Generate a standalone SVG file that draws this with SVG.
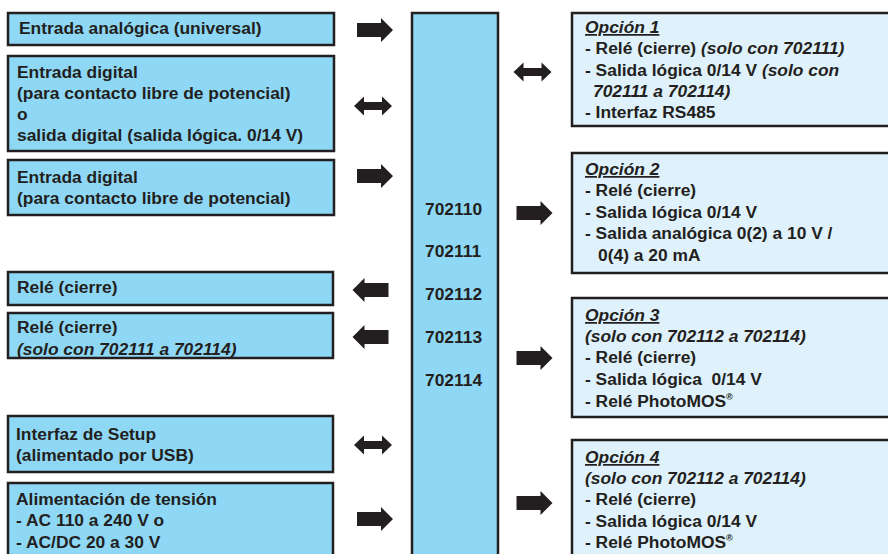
<svg xmlns="http://www.w3.org/2000/svg" width="888" height="554" viewBox="0 0 888 554">
<style>
.bl{fill:#8ed8f6;stroke:#231f20;stroke-width:2.5}
.br{fill:#dff1fb;stroke:#231f20;stroke-width:2.5}
text{font-family:"Liberation Sans",Arial,sans-serif;font-weight:bold;font-size:17.4px;fill:#231f20}
.i{font-style:italic}
.u{text-decoration:underline}
.ar{fill:#231f20}
</style>
<defs>
<path id="ra" d="M-18,-7 H6 V-12 L18,0 L6,12 V7 H-18 Z"/>
<path id="la" d="M18,-7 H-6 V-12 L-18,0 L-6,12 V7 H18 Z"/>
<path id="da" d="M-19,0 L-9,-9.5 V-4 H9 V-9.5 L19,0 L9,9.5 V4 H-9 V9.5 Z"/>
</defs>
<rect width="888" height="554" fill="#fff"/>
<g id="center">
<rect class="bl" x="412" y="13" width="86" height="560"/>
<text x="425" y="215">702110</text>
<text x="425" y="257">702111</text>
<text x="425" y="300">702112</text>
<text x="425" y="343">702113</text>
<text x="425" y="386">702114</text>
</g>
<g id="in1">
<rect class="bl" x="8" y="13" width="326" height="32"/>
<text x="19" y="34">Entrada analógica (universal)</text>
</g>
<g id="in2">
<rect class="bl" x="8" y="56" width="326" height="95"/>
<text x="17" y="78">Entrada digital</text>
<text x="17" y="99">(para contacto libre de potencial)</text>
<text x="17" y="120">o</text>
<text x="17" y="141">salida digital (salida lógica. 0/14 V)</text>
</g>
<g id="in3">
<rect class="bl" x="8" y="160" width="326" height="55"/>
<text x="17" y="183">Entrada digital</text>
<text x="17" y="204">(para contacto libre de potencial)</text>
</g>
<g id="out1">
<rect class="bl" x="8" y="272" width="325" height="33"/>
<text x="17" y="293">Relé (cierre)</text>
</g>
<g id="out2">
<rect class="bl" x="8" y="313" width="325" height="45"/>
<text x="17" y="333">Relé (cierre)</text>
<text x="17" y="355" class="i">(solo con 702111 a 702114)</text>
</g>
<g id="setup">
<rect class="bl" x="8" y="416" width="325" height="56"/>
<text x="16" y="440">Interfaz de Setup</text>
<text x="16" y="461">(alimentado por USB)</text>
</g>
<g id="power">
<rect class="bl" x="8" y="483" width="325" height="90"/>
<text x="16" y="505">Alimentación de tensión</text>
<text x="16" y="526">- AC 110 a 240 V o</text>
<text x="16" y="548">- AC/DC 20 a 30 V</text>
</g>
<g id="opt1">
<rect class="br" x="572" y="13" width="330" height="113"/>
<text x="585" y="33" class="i u">Opción 1</text>
<text x="585" y="54">- Relé (cierre) <tspan class="i">(solo con 702111)</tspan></text>
<text x="585" y="76">- Salida lógica 0/14 V <tspan class="i">(solo con</tspan></text>
<text x="593" y="97" class="i">702111 a 702114)</text>
<text x="585" y="118">- Interfaz RS485</text>
</g>
<g id="opt2">
<rect class="br" x="572" y="153" width="330" height="120"/>
<text x="585" y="175" class="i u">Opción 2</text>
<text x="585" y="196">- Relé (cierre)</text>
<text x="585" y="218">- Salida lógica 0/14 V</text>
<text x="585" y="239">- Salida analógica 0(2) a 10 V /</text>
<text x="598" y="261">0(4) a 20 mA</text>
</g>
<g id="opt3">
<rect class="br" x="572" y="298" width="330" height="119"/>
<text x="585" y="321" class="i u">Opción 3</text>
<text x="585" y="342" class="i">(solo con 702112 a 702114)</text>
<text x="585" y="363">- Relé (cierre)</text>
<text x="585" y="385" style="white-space:pre">- Salida lógica  0/14 V</text>
<text x="585" y="407">- Relé PhotoMOS<tspan font-size="9" dy="-7">®</tspan></text>
</g>
<g id="opt4">
<rect class="br" x="572" y="440" width="330" height="130"/>
<text x="585" y="463" class="i u">Opción 4</text>
<text x="585" y="484" class="i">(solo con 702112 a 702114)</text>
<text x="585" y="505">- Relé (cierre)</text>
<text x="585" y="527">- Salida lógica 0/14 V</text>
<text x="585" y="548">- Relé PhotoMOS<tspan font-size="9" dy="-7">®</tspan></text>
</g>
<g id="connectors" class="ar">
<use href="#ra" x="375" y="30"/>
<use href="#da" x="373" y="106"/>
<use href="#ra" x="375" y="176"/>
<use href="#la" x="370.5" y="290"/>
<use href="#la" x="370.5" y="337"/>
<use href="#da" x="373" y="445"/>
<use href="#ra" x="375" y="519"/>
<use href="#da" x="532.5" y="72"/>
<use href="#ra" x="534.5" y="213"/>
<use href="#ra" x="534.5" y="358"/>
<use href="#ra" x="534.5" y="503"/>
</g>
</svg>
